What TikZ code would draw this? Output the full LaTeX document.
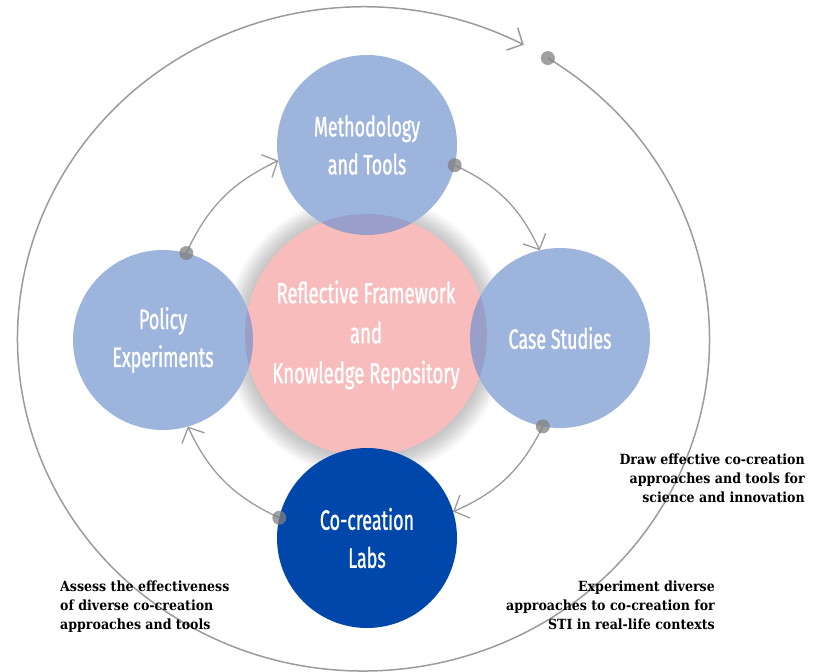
\documentclass[tikz,border=0pt]{standalone}
\usepackage{fontspec}
\newfontfamily\condfont[FakeStretch=0.64, FakeBold=1]{Fira Sans}
\newfontfamily\noteserif{DejaVu Serif Condensed}
\usetikzlibrary{arrows.meta,calc,positioning}

\definecolor{softblue}{HTML}{7394CF}
\definecolor{deepblue}{HTML}{0047AB}
\definecolor{softpink}{HTML}{F9BCBC}
\definecolor{linegray}{HTML}{9B9B9B}

\tikzset{
  bubble/.style={circle, inner sep=0pt, outer sep=0pt, minimum size=180pt,
    align=center, text=white, font=\condfont\fontsize{28}{38}\selectfont},
  side/.style={bubble, fill=softblue, fill opacity=0.7, text opacity=1},
  flow/.style={linegray, line width=1.3pt, -{Straight Barb[length=12pt,width=25pt]}},
  knob/.style={circle, fill=gray, fill opacity=0.75, inner sep=0pt, minimum size=14pt},
  note/.style={font=\noteserif\bfseries\fontsize{14}{19}\selectfont, inner sep=0pt},
}

\begin{document}
\begin{tikzpicture}[x=1pt,y=-1pt]
  \useasboundingbox (0,0) rectangle (823,672);

  % soft shadow round the middle circle, kept off the side circles
  \begin{scope}[even odd rule]
    \clip (0,0) rectangle (823,672)
      (163,340) circle[radius=90] (367,145) circle[radius=90] (560,338) circle[radius=90];
    \foreach \g in {1,...,22}
      \fill[black, fill opacity=0.011] (366,336) circle[radius=120+\g];
  \end{scope}

  % middle circle
  \node[bubble, fill=softpink, minimum size=242pt,
    font=\condfont\fontsize{29}{40}\selectfont] (repo) at (366,335)
    {Reflective Framework\\and\\Knowledge Repository};

  % four stages
  \node[side] (method) at (367,145) {Methodology\\and Tools};
  \node[side] (policy) at (163,340) {Policy\\Experiments};
  \node[side] (cases) at (560,338) {Case Studies};
  \node[bubble, fill=deepblue] (labs) at (367,538) {Co-creation\\Labs};

  % outer loop
  \coordinate (rim) at (363.5,339);
  \coordinate (loopstart) at ($(rim)+(-57.8:346 and 332)$);
  \draw[flow, line width=1.5pt] (loopstart)
    arc[start angle=-57.8, end angle=297.6, x radius=346, y radius=332];

  % inner cycle
  \draw[flow] (policy.75) to[bend left=20] (method.190);
  \draw[flow] (method.-13) to[bend left=20] (cases.103);
  \draw[flow] (cases.-101) to[bend left=20] (labs.17);
  \draw[flow] (labs.167) to[bend left=20] (policy.-74);

  \node[knob] (k0) at (loopstart) {};
  \node[knob] (k1) at (policy.75) {};
  \node[knob] (k2) at (method.-13) {};
  \node[knob] (k3) at (cases.-101) {};
  \node[knob] (k4) at (labs.167) {};

  % notes
  \node[note, anchor=north east, align=right] (drawnote) at (805,454)
    {Draw effective co-creation\\approaches and tools for\\science and innovation};
  \node[note, anchor=north east, align=right] (expnote) at (715,581)
    {Experiment diverse\\approaches to co-creation for\\STI in real-life contexts};
  \node[note, anchor=north west, align=left] (assessnote) at (60,581)
    {Assess the effectiveness\\of diverse co-creation\\approaches and tools};
\end{tikzpicture}
\end{document}
